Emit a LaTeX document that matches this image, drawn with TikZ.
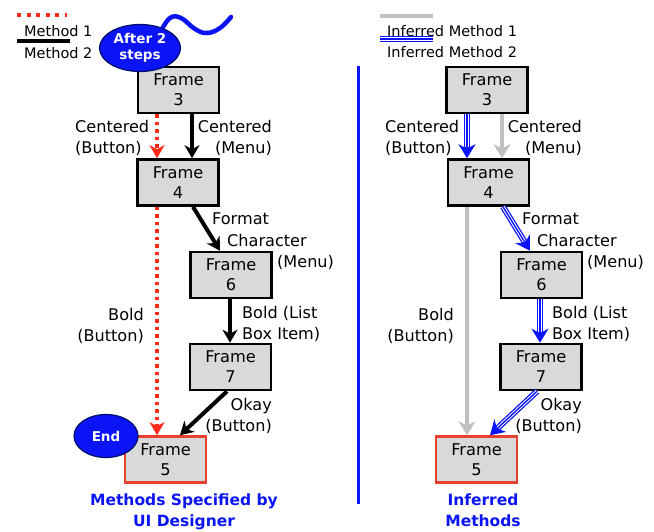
\documentclass[tikz,border=0pt]{standalone}
\usepackage{fontspec}
\setmainfont{DejaVu Sans}
\usetikzlibrary{arrows.meta,shapes.geometric}
\definecolor{fgray}{HTML}{D9D9D9}
\definecolor{myblue}{HTML}{0A14F5}
\definecolor{navy}{HTML}{00106A}
\definecolor{myred}{HTML}{FF2A1A}
\definecolor{frred}{HTML}{E8402E}
\definecolor{lgray}{HTML}{C0C0C0}
\newcommand\labfont{\fontsize{16.1}{21}\selectfont}
\newcommand\ttlfont{\fontsize{15.5}{21}\selectfont}
\newcommand\frmfont{\fontsize{16.2}{20}\selectfont}
\newcommand\legfont{\fontsize{14.5}{18}\selectfont}
\begin{document}
\begin{tikzpicture}[x=1pt,y=-1pt,
 framebox/.style={draw=black, line width=2.6pt, fill=fgray, minimum width=81pt, minimum height=46pt, inner sep=0pt, align=center, font=\frmfont},
 endframe/.style={framebox, draw=frred},
 lbl/.style={inner sep=0pt, font=\labfont},
 leg/.style={inner sep=0pt, font=\legfont, anchor=west},
 ttl/.style={inner sep=0pt, font=\ttlfont\bfseries, text=myblue, align=center, anchor=north},
 bubble/.style={ellipse, draw=navy, line width=1.2pt, fill=myblue, text=white, font=\fontsize{13.5}{16}\selectfont\bfseries, align=center, inner sep=0pt},
 tipa/.style={-{Stealth[length=13pt,width=15pt,inset=4pt]}},
 tipb/.style={-{Stealth[length=14pt,width=17pt,inset=4.5pt]}},
 blk/.style={draw=black, line width=4pt, tipa},
 reddot/.style={draw=myred, line width=3.5pt, dash pattern=on 3.5pt off 4pt, tipa},
 gry/.style={draw=lgray, line width=3.5pt, tipb},
 tripline/.style={draw=myblue, line width=6pt, postaction={draw=white, line width=3.4pt}, postaction={draw=myblue, line width=1.4pt}},
 trip/.style={preaction={draw=myblue, line width=6pt, shorten >=0pt, tipb}, draw=white, line width=3.4pt, shorten >=11pt, postaction={draw=myblue, line width=1.4pt}}
]
\useasboundingbox (0,0) rectangle (654,532);

% ---------- legends ----------
\coordinate (l1a) at (17,15); \coordinate (l1b) at (67,15);
\coordinate (l2a) at (17,41); \coordinate (l2b) at (70,41);
\draw[draw=myred, line width=4pt, dash pattern=on 4pt off 5.5pt] (l1a) -- (l1b);
\draw[black, line width=4pt] (l2a) -- (l2b);
\node[leg] (m1) at (24,31) {Method 1};
\node[leg] (m2) at (24,53) {Method 2};

\coordinate (r1a) at (380,16); \coordinate (r1b) at (433,16);
\coordinate (r2a) at (380,39); \coordinate (r2b) at (433,39);
\draw[lgray, line width=4pt] (r1a) -- (r1b);
\draw[tripline] (r2a) -- (r2b);
\node[leg] (im1) at (387,31) {Inferred Method 1};
\node[leg] (im2) at (387,52) {Inferred Method 2};

% ---------- divider ----------
\coordinate (dv1) at (358,66); \coordinate (dv2) at (358,504);
\draw[myblue, line width=3pt] (dv1) -- (dv2);

% ---------- left panel ----------
\node[framebox] (f3) at (178.5,90) {Frame\\3};
\node[framebox] (f4) at (178,182.5) {Frame\\4};
\node[framebox] (f6) at (231,275) {Frame\\6};
\node[framebox] (f7) at (230.5,367) {Frame\\7};
\node[endframe] (f5) at (165.5,459.5) {Frame\\5};

\draw[reddot] ([xshift=-21.5pt]f3.south) -- ([xshift=-21pt]f4.north);
\draw[reddot] ([xshift=-21pt]f4.south) -- ([xshift=-8.5pt]f5.north);
\draw[blk] ([xshift=13.5pt]f3.south) -- ([xshift=14pt]f4.north);
\draw[blk] ([xshift=15pt]f4.south) -- ([xshift=-11pt]f6.north);
\draw[blk] ([xshift=-1pt]f6.south) -- ([xshift=-0.5pt]f7.north);
\draw[blk] ([xshift=-3.5pt]f7.south) -- ([xshift=14.5pt]f5.north);

\node[lbl, align=left, anchor=north west] (c1) at (75,120) {Centered\\(Button)};
\node[lbl, align=right, anchor=north east] (c2) at (272,120) {Centered\\(Menu)};
\node[lbl, anchor=west] (fa) at (212,219) {Format};
\node[lbl, anchor=west] (fb) at (227,240) {Character};
\node[lbl, anchor=west] (fc) at (277,262) {(Menu)};
\node[lbl, align=right, anchor=north east] (b1) at (144,308) {Bold\\(Button)};
\node[lbl, align=left, anchor=north west] (b2) at (242,306) {Bold (List\\Box Item)};
\node[lbl, align=right, anchor=north east] (ok) at (272,398) {Okay\\(Button)};

\draw[myblue, line width=4.5pt, line cap=round] plot[smooth, tension=0.7] coordinates {(161,31) (170,18) (181,18) (195,29) (207,33) (220,28) (231,17)};
\node[bubble, minimum width=81pt, minimum height=47pt] (after) at (140,48) {After 2\\steps};
\node[bubble, minimum width=64pt, minimum height=43pt] (endb) at (106,436) {End};

\node[ttl] (t1) at (184,494) {Methods Specified by\\UI Designer};

% ---------- right panel ----------
\node[framebox] (g3) at (487,90) {Frame\\3};
\node[framebox] (g4) at (488.5,182.5) {Frame\\4};
\node[framebox] (g6) at (541.5,275) {Frame\\6};
\node[framebox] (g7) at (541,367) {Frame\\7};
\node[endframe] (g5) at (476.5,459.5) {Frame\\5};

\draw[trip] ([xshift=-20pt]g3.south) -- ([xshift=-21.5pt]g4.north);
\draw[gry] ([xshift=15pt]g3.south) -- ([xshift=13.5pt]g4.north);
\draw[gry] ([xshift=-21.5pt]g4.south) -- ([xshift=-9.5pt]g5.north);
\draw[trip] ([xshift=14.5pt]g4.south) -- ([xshift=-11.5pt]g6.north);
\draw[trip] ([xshift=-1.5pt]g6.south) -- ([xshift=-1pt]g7.north);
\draw[trip] ([xshift=-4pt]g7.south) -- ([xshift=13.5pt]g5.north);

\node[lbl, align=left, anchor=north west] (d1) at (385,120) {Centered\\(Button)};
\node[lbl, align=right, anchor=north east] (d2) at (582,120) {Centered\\(Menu)};
\node[lbl, anchor=west] (ga) at (522,219) {Format};
\node[lbl, anchor=west] (gb) at (537,240) {Character};
\node[lbl, anchor=west] (gc) at (587,262) {(Menu)};
\node[lbl, align=right, anchor=north east] (e1) at (454,308) {Bold\\(Button)};
\node[lbl, align=left, anchor=north west] (e2) at (552,306) {Bold (List\\Box Item)};
\node[lbl, align=right, anchor=north east] (ok2) at (582,398) {Okay\\(Button)};

\node[ttl] (t2) at (483,494) {Inferred\\Methods};
\end{tikzpicture}
\end{document}
